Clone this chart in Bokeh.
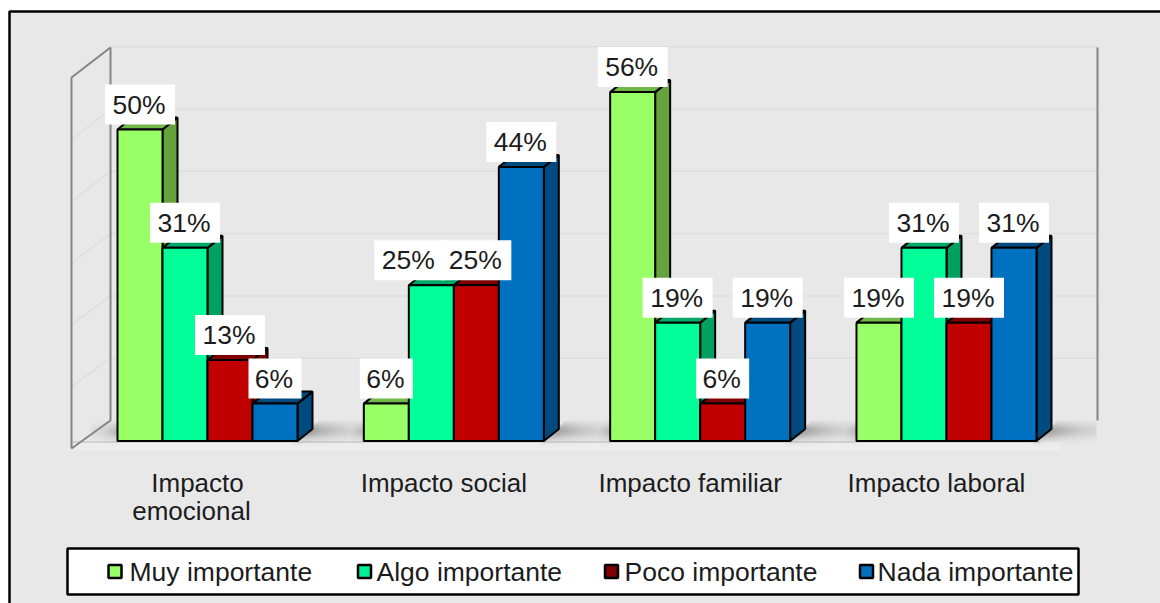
import numpy as np
from bokeh.core.properties import value
from bokeh.embed import file_html
from bokeh.models import Range1d
from bokeh.plotting import figure
from bokeh.resources import INLINE

categories = [["Impacto", "emocional"], ["Impacto social"], ["Impacto familiar"], ["Impacto laboral"]]
series_names = ["Muy importante", "Algo importante", "Poco importante", "Nada importante"]
muy_importante = [50, 6, 56, 19]
algo_importante = [31, 25, 19, 31]
poco_importante = [13, 25, 6, 19]
nada_importante = [6, 44, 19, 31]
series_values = [muy_importante, algo_importante, poco_importante, nada_importante]

front_colors = ["#99ff66", "#00ff99", "#c00000", "#0070c0"]
depth_colors = ["#66a23c", "#00a060", "#800000", "#004a80"]
top_colors = ["#70b848", "#00a868", "#800000", "#004a80"]
legend_colors = ["#99ff66", "#00f097", "#7f0000", "#0070c0"]

WIDTH, HEIGHT = 1160, 603
FONT = value("Liberation Sans")
INK = "#1c1c1c"

# Scale: one group per 246.33 px, one percentage point per 6.23 px.
GROUP_PX = 246.33
PCT_PX = 6.23
ORIGIN_X = 207.0
ORIGIN_Y = 440.5
BAR_W = 45.0 / GROUP_PX
DEPTH_X = 15.0 / GROUP_PX
DEPTH_Y = 12.0 / PCT_PX


def gx(px):
    return (np.asarray(px, dtype=float) - ORIGIN_X) / GROUP_PX


def gy(py):
    return (ORIGIN_Y - np.asarray(py, dtype=float)) / PCT_PX


p = figure(
    width=WIDTH, height=HEIGHT, output_backend="svg", toolbar_location=None,
    x_range=Range1d(float(gx(0)), float(gx(WIDTH))),
    y_range=Range1d(float(gy(HEIGHT)), float(gy(0))),
    min_border=0, outline_line_color=None, background_fill_color="white",
    border_fill_color="white",
)
p.axis.visible = False
p.grid.visible = False

# Panel with heavy top and left rules.
p.quad(left=gx(9), right=gx(WIDTH + 5), top=gy(11), bottom=gy(HEIGHT + 5),
       fill_color="#e8e8e8", line_color="black", line_width=2.5)

# Back wall, side wall and gridlines.
WALL_LEFT, WALL_FRONT, WALL_RIGHT = 110.0, 71.0, 1097.0
BACK_FLOOR, FRONT_FLOOR = 420.0, 448.0
TICKS = [0, 10, 20, 30, 40, 50, 60]
GRID = "#dedede"
for t in TICKS[1:]:
    y_back = BACK_FLOOR - t * PCT_PX
    y_front = FRONT_FLOOR - t * 6.18
    p.line(gx([WALL_LEFT, WALL_RIGHT]), gy([y_back, y_back]), line_color=GRID, line_width=1.5)
    p.line(gx([WALL_FRONT, WALL_LEFT]), gy([y_front, y_back]), line_color=GRID, line_width=1.5)

# Pale strip along the front of the floor.
p.quad(left=gx(75), right=gx(1060), top=gy(441), bottom=gy(450), fill_color="#efefef", fill_alpha=0.7, line_alpha=0)
p.line(gx([71, 1040]), gy([441.5, 441.5]), line_color="#bcbcbc", line_width=1.2)

# Soft floor shadow thrown to the right of each bar group.
cell = 2.0
xs = np.arange(90, 1096, cell)
ys = np.arange(420, 446, cell)
left, right, top, bottom, alpha = [], [], [], [], []
for x in xs:
    for y in ys:
        a = 0.0
        for g in range(4):
            edge = ORIGIN_X + g * GROUP_PX + 90 + 10
            skew = (441 - y) * 1.1
            d = x - edge + 8 - skew
            if -6 <= d:
                a = max(a, np.exp(-d / 32.0) if d > 0 else 1.0)
        # a fainter run-up toward the next group's left side
        for g in range(4):
            edge = ORIGIN_X + g * GROUP_PX - 90
            d = edge - x
            if 0 <= d <= 30:
                a = max(a, 0.8 * np.exp(-d / 14.0))
        band = np.exp(-(((y - 430.0) / 7.5) ** 2))
        if a * band > 0.01:
            left.append(gx(x)); right.append(gx(x + cell))
            top.append(gy(y)); bottom.append(gy(y + cell))
            alpha.append(0.5 * a * band)
p.quad(left=left, right=right, top=top, bottom=bottom, fill_color="#555555", fill_alpha=alpha, line_alpha=0)

# Wall outlines.
WALL = "#858585"
p.line(gx([WALL_FRONT, WALL_FRONT, WALL_LEFT]), gy([448, 77, 47]), line_color=WALL, line_width=2)
p.line(gx([WALL_FRONT, WALL_LEFT, WALL_LEFT]), gy([448, 420, 47]), line_color=WALL, line_width=2)
p.line(gx([WALL_RIGHT, WALL_RIGHT]), gy([47, 420]), line_color=WALL, line_width=2)

# Extruded bars, painted series by series so that each bar overlaps its left neighbour.
for j, vals in enumerate(series_values):
    centers = [i + (j - 1.5) * BAR_W for i in range(len(vals))]
    side_x, side_y, top_x, top_y = [], [], [], []
    for c, v in zip(centers, vals):
        l, r = c - BAR_W / 2, c + BAR_W / 2
        side_x.append([r, r + DEPTH_X, r + DEPTH_X, r])
        side_y.append([0, DEPTH_Y, v + DEPTH_Y, v])
        top_x.append([l, l + DEPTH_X, r + DEPTH_X, r])
        top_y.append([v, v + DEPTH_Y, v + DEPTH_Y, v])
    p.patches(side_x, side_y, fill_color=depth_colors[j], line_color="black", line_width=2)
    p.patches(top_x, top_y, fill_color=top_colors[j], line_color="black", line_width=2)
    p.vbar(x=centers, top=vals, bottom=0, width=BAR_W, fill_color=front_colors[j], line_color="black", line_width=2)

# Value labels on white plates above each bar; one label is nudged left to clear its neighbour.
LABEL_LIFT = 25.0 / PCT_PX
plate_h = 40.0 / PCT_PX
label_nudge = {(1, 1): -22.0}
for j, vals in enumerate(series_values):
    centers = [i + (j - 1.5) * BAR_W + label_nudge.get((j, i), 0.0) / GROUP_PX for i in range(len(vals))]
    labels = [f"{v}%" for v in vals]
    widths = [(70.0 if len(s) == 3 else 53.0) / GROUP_PX for s in labels]
    lifted = [v + LABEL_LIFT for v in vals]
    p.rect(x=centers, y=lifted, width=widths, height=plate_h, fill_color="white", line_alpha=0)
    p.text(x=centers, y=lifted, text=labels, text_font=FONT, text_font_size="26.5px", text_color=INK,
           text_align="center", text_baseline="middle", x_offset=-1)

# Category captions under the floor; the wrapped second line sits a little left of the first.
CAPTION_SHIFT = -10.0 / GROUP_PX
LINE_SHIFT = -6.0 / GROUP_PX
for i, lines in enumerate(categories):
    for k, line in enumerate(lines):
        p.text(x=[i + CAPTION_SHIFT + k * LINE_SHIFT], y=[gy(482 + 28 * k)], text=[line], text_font=FONT,
               text_font_size="26px", text_color=INK, text_align="center", text_baseline="middle")

# Legend.
p.quad(left=gx(67), right=gx(1078), top=gy(548), bottom=gy(594), fill_color="white", line_color="black", line_width=2.5)
marker_px = [114.5, 364, 611, 866]
text_px = [129, 376, 624, 877]
for name, color, mx, tx in zip(series_names, legend_colors, marker_px, text_px):
    p.scatter(x=[gx(mx)], y=[gy(571)], marker="square", size=13, fill_color=color, line_color="black", line_width=2.5)
    p.text(x=[gx(tx)], y=[gy(571)], text=[name], text_font=FONT, text_font_size="26.5px", text_color=INK,
           text_align="left", text_baseline="middle")

open("out.html", "w").write(file_html(p, INLINE))
